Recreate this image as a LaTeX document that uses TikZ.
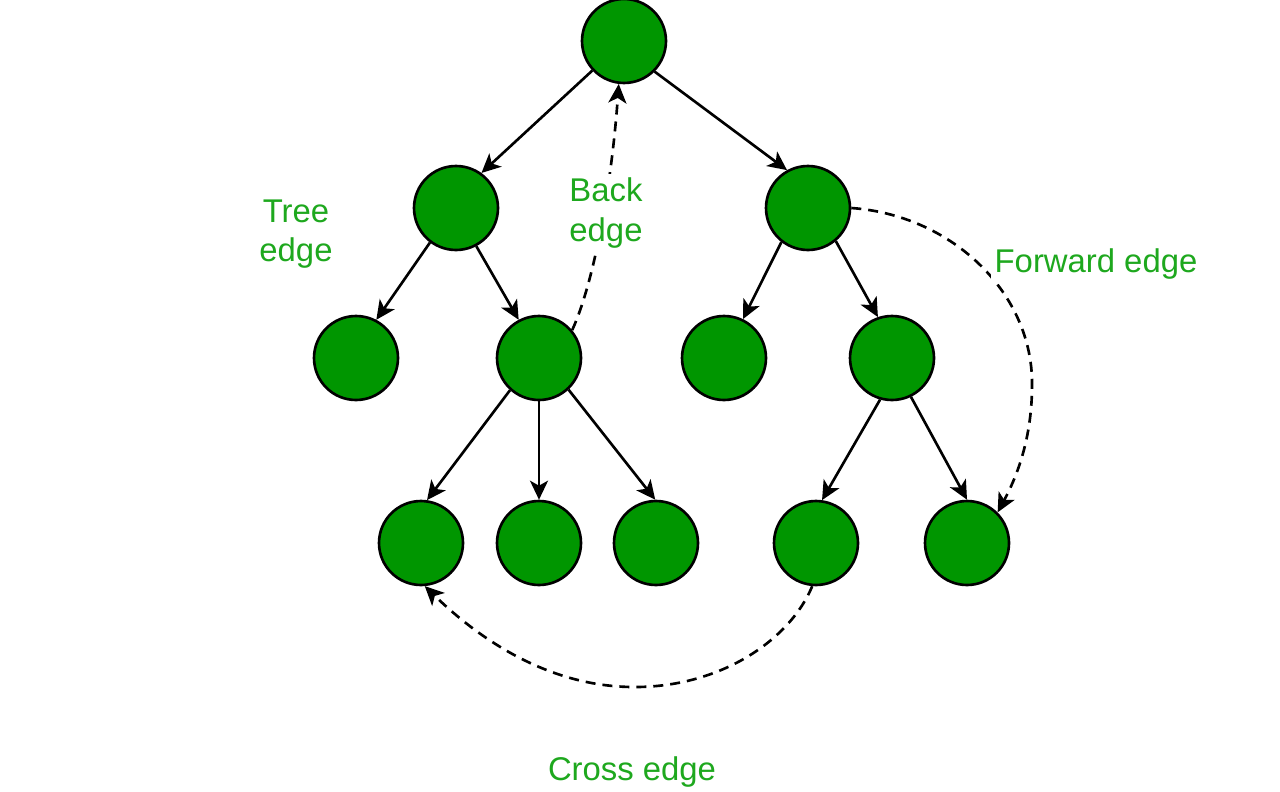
\documentclass[tikz,border=0pt]{standalone}
\usepackage{fontspec}
\setmainfont{Liberation Sans}
\usetikzlibrary{arrows.meta}
\definecolor{nodegreen}{RGB}{0,150,0}
\definecolor{labelgreen}{RGB}{30,168,30}
\tikzset{
  vertex/.style={circle, draw=black, line width=1.5pt, fill=nodegreen, minimum size=1.68cm, inner sep=0pt},
  tip/.style={-{Stealth[length=0.38cm,width=0.36cm,inset=0.1cm]}},
  treeedge/.style={line width=1.5pt, tip},
  otheredge/.style={line width=1.5pt, dash pattern=on 0.2cm off 0.14cm, tip},
  lab/.style={text=labelgreen, font=\fontsize{18.7}{22.5}\selectfont, align=center, inner sep=2pt}
}
\begin{document}
\begin{tikzpicture}[x=0.02cm, y=-0.02cm]
\useasboundingbox (0,0) rectangle (1280,791);
\node[vertex] (root) at (624,41) {};
\node[vertex] (L1) at (456,208) {};
\node[vertex] (R1) at (808,208) {};
\node[vertex] (LL) at (356,358) {};
\node[vertex] (LR) at (539,358) {};
\node[vertex] (RL) at (724,358) {};
\node[vertex] (RR) at (892,358) {};
\node[vertex] (B1) at (421,543) {};
\node[vertex] (B2) at (539,543) {};
\node[vertex] (B3) at (656,543) {};
\node[vertex] (B4) at (816,543) {};
\node[vertex] (B5) at (967,543) {};

\draw[treeedge] (root.223) -- (L1.54);
\draw[treeedge] (root.-45) -- (R1.119);
\draw[treeedge] (L1.233) -- (LL.62);
\draw[treeedge] (L1.-62) -- (LR.118);
\draw[treeedge] (R1.232) -- (RL.64);
\draw[treeedge] (R1.-50) -- (RR.109);
\draw[treeedge] (LR.228) -- (B1.82);
\draw[treeedge] (LR.-90) -- (B2.90);
\draw[treeedge] (LR.-47) -- (B3.91);
\draw[treeedge] (RR.254) -- (B4.82);
\draw[treeedge] (RR.-64) -- (B5.90);

% back edge
\draw[otheredge] (LR.40) .. controls (595,280) and (612,180) .. (root.263);
% forward edge
\coordinate (fmid) at (1032,380);
\draw[otheredge] (R1.east) .. controls (950,215) and (1030,290) .. (fmid)
   .. controls (1033,440) and (1015,480) .. (B5.45);
% cross edge
\coordinate (cmid) at (632,687);
\draw[otheredge] (B4.-95) .. controls (790,640) and (720,688) .. (cmid)
   .. controls (540,686) and (470,630) .. (B1.-85);

\node[lab] (tree) at (296,234) {Tree\\edge};
\node[lab, fill=white] (back) at (606,213) {Back\\edge};
\node[lab, fill=white] (fwd) at (1096,264) {Forward edge};
\node[lab] (cross) at (632,772) {Cross edge};
\end{tikzpicture}
\end{document}
